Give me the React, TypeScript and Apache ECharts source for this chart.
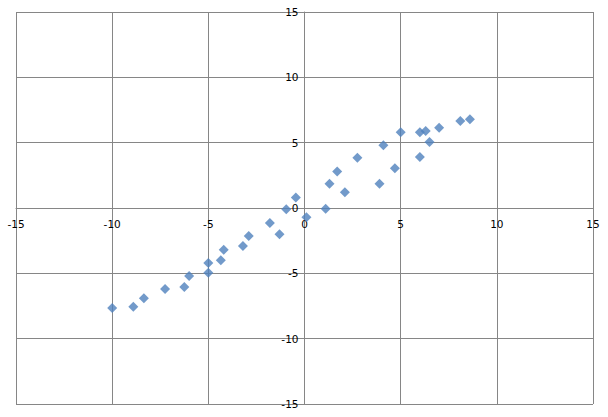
import React, { useEffect, useRef } from "react";
import * as echarts from "echarts";

const xValues = [-10.0, -8.9, -8.35, -7.25, -6.25, -6.0, -5.0, -5.0, -4.35, -4.2, -3.2, -2.9, -1.8, -1.3, -0.95, -0.45, 0.1, 1.1, 1.3, 1.7, 2.1, 2.75, 3.9, 4.1, 4.7, 5.0, 6.0, 6.0, 6.3, 6.5, 7.0, 8.1, 8.6];
const yValues = [-7.65, -7.55, -6.9, -6.2, -6.05, -5.2, -4.95, -4.2, -4.0, -3.2, -2.9, -2.15, -1.15, -2.0, -0.1, 0.8, -0.7, -0.05, 1.85, 2.8, 1.2, 3.85, 1.85, 4.8, 3.05, 5.8, 3.9, 5.8, 5.9, 5.05, 6.15, 6.65, 6.8];
const axisMin = -15;
const axisMax = 15;
const axisStep = 5;

const W = 608;
const H = 417;
const gridLeft = 16;
const gridRight = 15;
const gridTop = 12;
const gridBottom = 13;

export default function App() {
  const ref = useRef<HTMLDivElement>(null);
  useEffect(() => {
    document.body.style.margin = "0";
    if (!ref.current) return;
    const chart = echarts.init(ref.current, undefined, { renderer: "svg" });
    const gridColor = "#868686";
    const labelStyle = {
      color: "#000",
      fontFamily: "DejaVu Sans",
      fontSize: 10.5,
    };
    const gw = W - gridLeft - gridRight;
    const gh = H - gridTop - gridBottom;
    const zeroFracX = (0 - axisMin) / (axisMax - axisMin);
    const zeroFracY = (0 - axisMin) / (axisMax - axisMin);
    chart.setOption({
      animation: false,
      backgroundColor: "#fff",
      grid: { left: gridLeft, right: gridRight, top: gridTop, bottom: gridBottom, containLabel: false },
      xAxis: {
        type: "value",
        min: axisMin,
        max: axisMax,
        interval: axisStep,
        position: "bottom",
        offset: -gh * zeroFracY,
        axisLine: { show: true, onZero: false, lineStyle: { color: gridColor, width: 1 } },
        axisTick: { show: false },
        axisLabel: { ...labelStyle, margin: 10, showMinLabel: true, showMaxLabel: true },
        splitLine: { show: true, lineStyle: { color: gridColor, width: 1 } },
      },
      yAxis: {
        type: "value",
        min: axisMin,
        max: axisMax,
        interval: axisStep,
        position: "left",
        offset: -gw * zeroFracX,
        axisLine: { show: true, onZero: false, lineStyle: { color: gridColor, width: 1 } },
        axisTick: { show: false },
        axisLabel: { ...labelStyle, margin: 6, showMinLabel: true, showMaxLabel: true },
        splitLine: { show: true, lineStyle: { color: gridColor, width: 1 } },
      },
      series: [
        {
          type: "scatter",
          symbol: "diamond",
          symbolSize: 10,
          itemStyle: { color: "#4F81BD" },
          data: xValues.map((x, i) => [x, yValues[i]]),
        },
      ],
    });
    return () => chart.dispose();
  }, []);
  return <div ref={ref} style={{ width: W, height: H }} />;
}
